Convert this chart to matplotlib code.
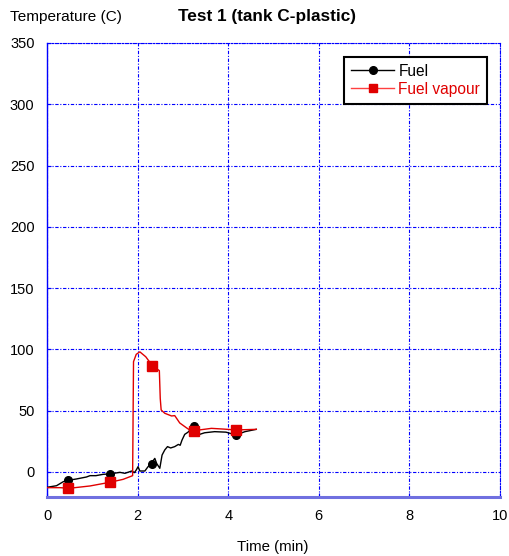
import matplotlib
matplotlib.use("Agg")
import matplotlib.pyplot as plt

# Fuel (black) trace
fuel_t = [0.0, 0.21, 0.36, 0.47, 0.65, 0.87, 0.95, 1.08, 1.24, 1.39, 1.61, 1.72, 1.87, 1.93, 1.97, 2.01, 2.05,
          2.16, 2.23, 2.29, 2.38, 2.42, 2.49, 2.54, 2.60, 2.66, 2.73, 2.82, 2.90, 2.94, 2.98, 3.04, 3.11,
          3.25, 3.37, 3.48, 3.70, 3.95, 4.17, 4.37, 4.62]
fuel_v = [-12.5, -11.2, -7.9, -6.8, -5.7, -4.1, -3.0, -3.0, -1.9, -1.6, -0.3, -1.1, 0.8, -0.5, 1.6, 4.3, 0.8,
          0.8, 4.3, 6.5, 11.1, 7.0, 3.0, 13.8, 18.0, 20.7, 19.6, 20.7, 22.5, 21.8, 26.0, 30.7, 32.4,
          37.8, 30.7, 32.0, 32.9, 32.5, 30.2, 32.9, 34.8]

# Fuel vapour (red) trace
vap_t = [0.0, 0.29, 0.49, 0.95, 1.39, 1.68, 1.89, 1.91, 1.97, 2.05, 2.18, 2.33, 2.48, 2.50, 2.52, 2.60,
         2.75, 2.82, 2.93, 3.08, 3.15, 3.24, 3.63, 3.90, 4.17, 4.62]
vap_v = [-12.8, -12.8, -13.3, -11.4, -8.4, -6.0, -3.0, 90.0, 96.0, 98.0, 94.0, 86.5, 82.7, 60.0, 50.6, 47.9,
         45.7, 46.0, 40.0, 36.0, 34.3, 33.7, 35.6, 35.0, 34.3, 34.8]

# Marker positions
mark_t = [0.47, 1.39, 2.31, 3.24, 4.17]
fuel_mark = [-6.8, -1.6, 6.5, 37.8, 30.5]
vap_mark = [-13.3, -8.4, 86.5, 33.7, 34.3]

x_ticks = [0, 2, 4, 6, 8, 10]
y_ticks = [0, 50, 100, 150, 200, 250, 300, 350]

plt.rcParams['font.family'] = ['Liberation Sans', 'DejaVu Sans']

fig = plt.figure(figsize=(5.10, 5.56), dpi=100)
ax = fig.add_axes([47/510, 1 - 496.5/556, (500 - 47)/510, (496.5 - 43)/556])

ax.plot(fuel_t, fuel_v, color='black', lw=1.0, zorder=3)
ax.plot(vap_t, vap_v, color='#e00000', lw=1.0, zorder=3)
ax.plot(mark_t, fuel_mark, 'o', color='black', ms=5.5, zorder=4)
ax.plot(mark_t, vap_mark, 's', color='#e00000', ms=7, zorder=5)

# legend proxies
lf, = ax.plot([], [], '-o', color='black', lw=1.0, ms=5.5)
lv, = ax.plot([], [], '-s', color='#ff4040', mfc='#e00000', mec='#e00000', lw=1.0, ms=6)
leg = ax.legend([lf, lv], ['Fuel', 'Fuel vapour'], loc='upper right',
                bbox_to_anchor=((487 - 47)/453, 1 - (56.7 - 43)/453.5),
                frameon=True, fancybox=False, framealpha=1, edgecolor='black',
                fontsize=11.2, handlelength=2.8, handletextpad=0.25, borderpad=0.45,
                labelspacing=0.2, borderaxespad=0)
leg.get_frame().set_linewidth(1.5)
leg.get_texts()[1].set_color('#e00000')

ax.set_xlim(0, 10)
ax.set_ylim(-20, 350)
ax.set_xticks(x_ticks)
ax.set_yticks(y_ticks)
ax.tick_params(direction='in', length=3, color='blue', labelsize=10.5, labelcolor='black')
ax.tick_params(axis='y', pad=9)
ax.tick_params(axis='x', pad=9)

ax.grid(True, color='#0000ff', lw=0.8, linestyle=(0, (3, 1.5, 1, 1.5)))
ax.set_axisbelow(True)
for s in ['top', 'right']:
    ax.spines[s].set_color('#0000ff')
    ax.spines[s].set_linestyle((0, (3, 1.5, 1, 1.5)))
    ax.spines[s].set_linewidth(0.8)
ax.spines['left'].set_color('#0000ff')
ax.spines['left'].set_linewidth(1.0)
ax.spines['bottom'].set_color('#7070e0')
ax.spines['bottom'].set_linewidth(2.2)

fig.text(10/510, 1 - 17/556, 'Temperature (C)', fontsize=11.1, va='center', ha='left')
fig.text(267/510, 1 - 16/556, 'Test 1 (tank C-plastic)', fontsize=12.4, fontweight='bold',
         va='center', ha='center')
fig.text(273/510, 1 - 547/556, 'Time (min)', fontsize=10.8, va='center', ha='center')

fig.savefig('out.png', dpi=100)
